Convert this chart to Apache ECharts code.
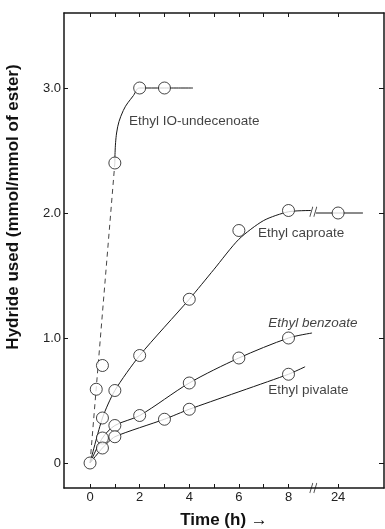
<!DOCTYPE html>
<html>
<head>
<meta charset="utf-8">
<script src="https://cdn.jsdelivr.net/npm/echarts@6/dist/echarts.min.js"></script>
<style>
  html, body { margin: 0; padding: 0; background: #fff; }
  #chart { width: 385px; height: 529px; }
</style>
</head>
<body>
<div id="chart"></div>
<script>
// measured points (time in h, hydride in mmol/mmol of ester)
var origin = [[0, 0]];
var undecT = [0.25, 0.5, 1, 2, 3];
var undecV = [0.59, 0.78, 2.4, 3.0, 3.0];
var caproT = [0.5, 1, 2, 4, 6, 8, 24];
var caproV = [0.36, 0.58, 0.86, 1.31, 1.86, 2.02, 2.0];
var benzT = [0.5, 1, 2, 4, 6, 8];
var benzV = [0.2, 0.3, 0.38, 0.64, 0.84, 1.0];
var pivT = [0.5, 1, 3, 4, 8];
var pivV = [0.12, 0.21, 0.35, 0.43, 0.71];

// drawn curves
var undecDash = [[0, 0], [1, 2.4]];
var undecCurve = [[1, 2.4], [1.07, 2.64], [1.34, 2.82], [1.75, 2.94], [2, 3.0], [3, 3.0], [4.15, 3.0]];
var caproCurve = [[0, 0], [0.5, 0.36], [1, 0.58], [2, 0.86], [4, 1.31], [5, 1.55], [6, 1.79], [7, 1.94], [8, 2.01], [8.9, 2.02]];
var caproTail = [[9.1, 2.0], [10, 2.0], [11, 2.0]];
var benzCurve = [[0, 0], [0.5, 0.2], [1, 0.3], [2, 0.38], [4, 0.64], [6, 0.84], [8, 1.0], [8.95, 1.04]];
var pivCurve = [[0, 0], [0.5, 0.12], [1, 0.21], [3, 0.35], [4, 0.43], [8, 0.71], [8.67, 0.77]];

var xTicks = [0, 1, 2, 3, 4, 5, 6, 7, 8, 10];
var xLabels = [0, 2, 4, 6, 8, 10];
var yTicks = [0, 1, 2, 3];

var labelNames = ['Ethyl IO-undecenoate', 'Ethyl caproate', 'Ethyl benzoate', 'Ethyl pivalate'];
var labelAt = [[1.57, 2.73], [6.77, 1.84], [7.18, 1.12], [7.18, 0.58]];

// 24 h is drawn after the axis break, at position 10
function pos(t) { return t === 24 ? 10 : t; }
function pts(ts, vs) {
    var out = [];
    for (var i = 0; i < ts.length; i++) out.push([pos(ts[i]), vs[i]]);
    return out;
}

var ink = '#161616';
var breakPath = 'path://M0 10 L3 0 M4 10 L7 0';

var chart = echarts.init(document.getElementById('chart'));

function curve(data, dashed, smooth) {
    return {
        type: 'line', data: data, symbol: 'none', smooth: smooth,
        lineStyle: { color: dashed ? '#444' : ink, width: 1, type: dashed ? [5, 4] : 'solid' },
        silent: true, z: 2
    };
}
function dots(data) {
    return {
        type: 'scatter', data: data, symbol: 'circle', symbolSize: 12,
        itemStyle: { color: '#fff', borderColor: ink, borderWidth: 1 }, z: 3
    };
}

var labelData = [];
for (var i = 0; i < labelNames.length; i++) {
    labelData.push({ value: labelAt[i], name: labelNames[i],
        label: { fontStyle: i === 2 ? 'italic' : 'normal' } });
}

option = {
    animation: false,
    grid: { left: 64, right: 1, top: 13, bottom: 41, outerBoundsMode: 'none' },
    xAxis: [
        {
            type: 'value', min: -1.05, max: 11.85,
            axisLine: { onZero: false, lineStyle: { color: ink, width: 1.5 } },
            axisTick: { inside: true, length: 4, customValues: xTicks, lineStyle: { color: ink } },
            axisLabel: { customValues: xLabels, color: '#222', fontSize: 13, margin: 3,
                fontFamily: 'Liberation Sans',
                formatter: function (v) { return v === 10 ? '24' : String(v); } },
            splitLine: { show: false },
            name: 'Time (h) \u2192', nameLocation: 'middle', nameGap: 24,
            nameTextStyle: { color: '#111', fontSize: 17, fontWeight: 'bold', fontFamily: 'Liberation Sans' }
        },
        {
            type: 'value', position: 'top', min: -1.05, max: 11.85,
            axisLine: { onZero: false, lineStyle: { color: ink, width: 1.5 } },
            axisTick: { inside: true, length: 4, customValues: xTicks, lineStyle: { color: ink } },
            axisLabel: { show: false }, splitLine: { show: false }
        }
    ],
    yAxis: [
        {
            type: 'value', min: -0.2, max: 3.6,
            axisLine: { onZero: false, lineStyle: { color: ink, width: 1.5 } },
            axisTick: { inside: true, length: 4, customValues: yTicks, lineStyle: { color: ink } },
            axisLabel: { customValues: yTicks, color: '#222', fontSize: 13, margin: 3,
                fontFamily: 'Liberation Sans',
                formatter: function (v) { return v === 0 ? '0' : v.toFixed(1); } },
            splitLine: { show: false }
        },
        {
            type: 'value', position: 'right', min: -0.2, max: 3.6,
            axisLine: { onZero: false, lineStyle: { color: ink, width: 1.5 } },
            axisTick: { inside: true, length: 5, customValues: yTicks, lineStyle: { color: ink } },
            axisLabel: { show: false }, splitLine: { show: false }
        }
    ],
    graphic: [{
        type: 'text', x: 13, y: 207, rotation: Math.PI / 2,
        style: { text: 'Hydride used (mmol/mmol of ester)', fill: '#111',
            font: 'bold 17px "Liberation Sans"', align: 'center', verticalAlign: 'middle' }
    }],
    series: [
        curve(undecDash, true, false),
        curve(undecCurve, false, 0.4),
        curve(caproCurve, false, 0.25),
        curve(caproTail, false, false),
        curve(benzCurve, false, 0.3),
        curve(pivCurve, false, 0.2),
        dots(origin),
        dots(pts(undecT, undecV)),
        dots(pts(caproT, caproV)),
        dots(pts(benzT, benzV)),
        dots(pts(pivT, pivV)),
        {
            type: 'scatter', data: [[9, 2.01], [9, -0.2]], symbol: breakPath, symbolSize: [7, 10],
            itemStyle: { color: 'none', borderColor: ink, borderWidth: 1 }, z: 4, silent: true
        },
        {
            type: 'scatter', data: labelData, symbolSize: 0, silent: true,
            label: { show: true, position: 'right', distance: 0, formatter: '{b}',
                color: '#111', fontSize: 13.5, fontFamily: 'Liberation Sans' }
        }
    ]
};

chart.setOption(option);
</script>
</body>
</html>
